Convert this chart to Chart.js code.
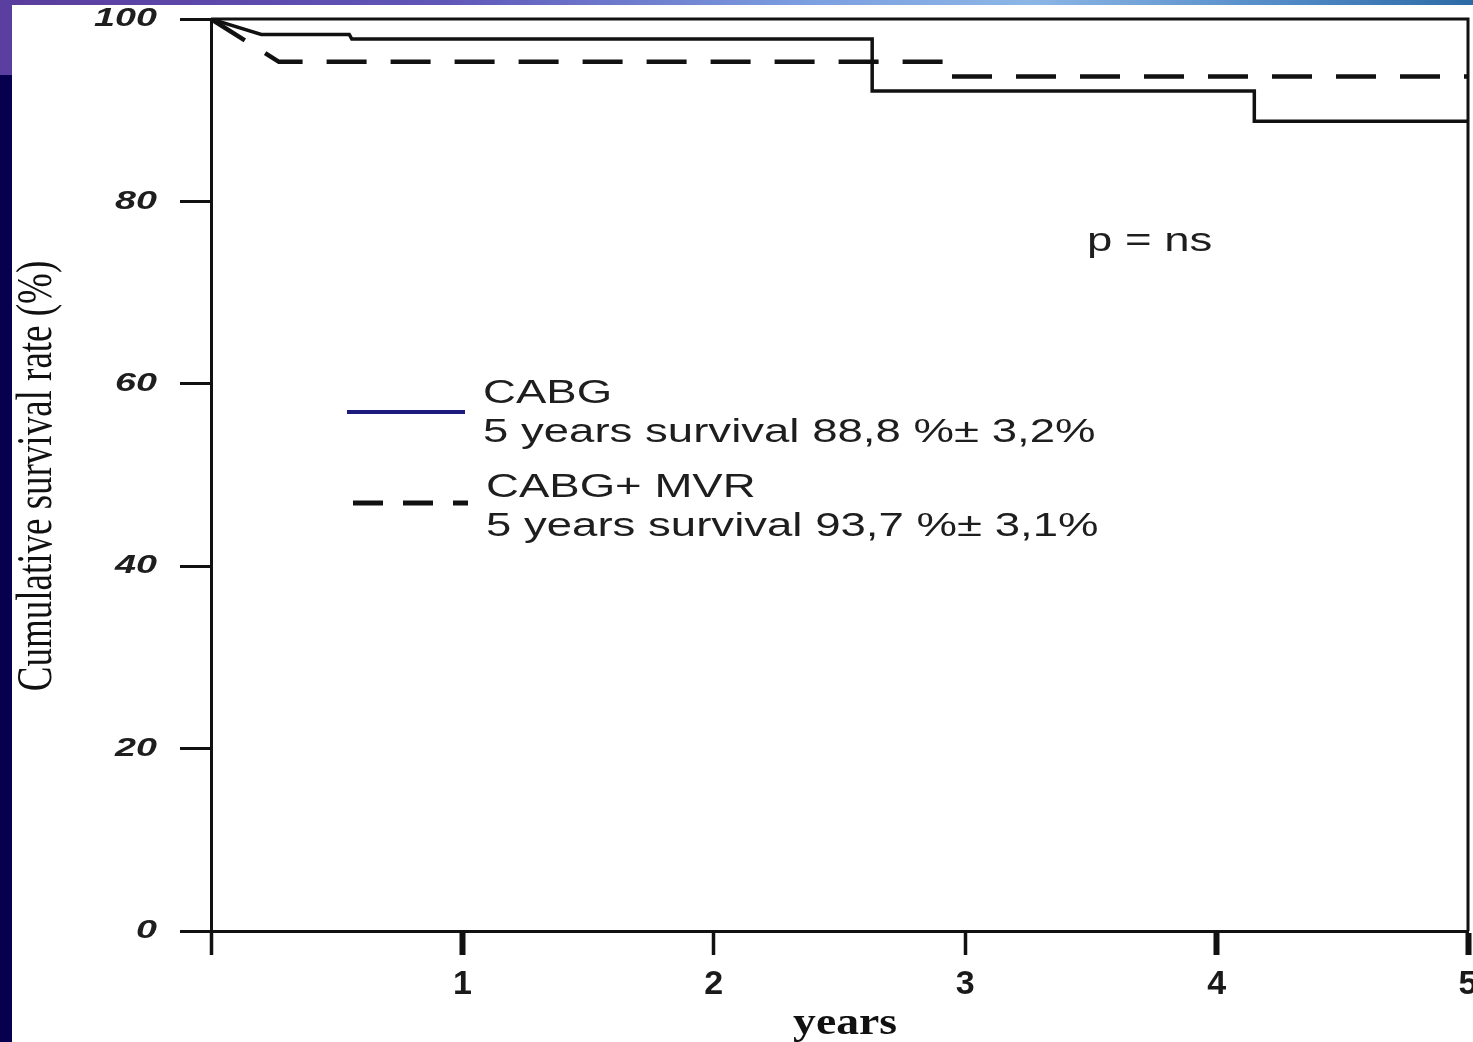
<!DOCTYPE html>
<html>
<head>
<meta charset="utf-8">
<title>Cumulative survival</title>
<script src="https://cdn.jsdelivr.net/npm/chart.js@4/dist/chart.umd.min.js"></script>
<style>
    html, body { margin: 0; padding: 0; }
    body {
        width: 1473px;
        height: 1042px;
        overflow: hidden;
        position: relative;
        background: #06004f;
    }
    #topStrip {
        position: absolute; left: 0; top: 0; width: 1473px; height: 5px;
        background: linear-gradient(90deg, #5a3c9c 0%, #5f56b8 30%, #7c9fe0 55%, #8cb6e6 70%, #4f88c4 88%, #2c6aa6 100%);
    }
    #sideBlock {
        position: absolute; left: 0; top: 0; width: 12px; height: 75px;
        background: #5a3ea0;
    }
    #chartBox {
        position: absolute; left: 12px; top: 5px; width: 1461px; height: 1037px;
        background: #ffffff;
    }
</style>
</head>
<body>
<div id="topStrip"></div>
<div id="sideBlock"></div>
<div id="chartBox"><canvas id="survival" width="1461" height="1037"></canvas></div>

<script>
// Kaplan-Meier curves, years vs cumulative survival (%)
const cabgYears = [0, 0.2, 0.55, 0.56, 2.63, 2.63, 4.15, 4.15, 5];
const cabgSurvival = [100, 98.3, 98.3, 97.8, 97.8, 92.1, 92.1, 88.8, 88.8];
const mvrYears = [0, 0.27, 2.94, 2.94, 5];
const mvrSurvival = [100, 95.3, 95.3, 93.7, 93.7];

const yearTicks = [0, 1, 2, 3, 4, 5];
const survivalTicks = [0, 20, 40, 60, 80, 100];

const legendLines = [
    ['CABG', '5 years survival 88,8 %\u00b1 3,2%'],
    ['CABG+ MVR', '5 years survival 93,7 %\u00b1 3,1%'],
];
const pValueText = 'p = ns';
const xTitle = 'years';
const yTitle = 'Cumulative survival rate (%)';

const INK = '#111111';

function toPoints(xs, ys) {
    return xs.map((x, i) => ({x: x, y: ys[i]}));
}

// stretched text, the figure's labels are wider than the font
function wideText(ctx, text, x, y, sx, align) {
    ctx.save();
    ctx.translate(x, y);
    ctx.scale(sx, 1);
    ctx.textAlign = align || 'left';
    ctx.fillText(text, 0, 0);
    ctx.restore();
}

// no extra room for the first/last tick labels
function noScalePadding(scale) {
    scale.paddingTop = 0;
    scale.paddingBottom = 0;
    scale.paddingLeft = 0;
    scale.paddingRight = 0;
}

const decorations = {
    id: 'decorations',
    afterDatasetsDraw(chart) {
        const ctx = chart.ctx;
        const area = chart.chartArea;
        const yScale = chart.scales.y;

        // box frame top and right
        ctx.save();
        ctx.strokeStyle = INK;
        ctx.lineWidth = 3;
        ctx.beginPath();
        ctx.moveTo(area.left, area.top);
        ctx.lineTo(area.right, area.top);
        ctx.lineTo(area.right, area.bottom);
        ctx.stroke();
        ctx.restore();

        // y tick labels, italic and wide
        ctx.save();
        ctx.fillStyle = '#1e1e1e';
        ctx.font = 'italic bold 26px "Liberation Sans", Arial, sans-serif';
        ctx.textBaseline = 'middle';
        survivalTicks.forEach(v => {
            wideText(ctx, String(v), 145, yScale.getPixelForValue(v), 1.45, 'right');
        });
        ctx.restore();

        // y title, rotated
        ctx.save();
        ctx.fillStyle = INK;
        ctx.font = '37px "Liberation Serif", "Times New Roman", serif';
        ctx.translate(26, 471);
        ctx.rotate(-Math.PI / 2);
        ctx.scale(1, 1.35);
        ctx.textAlign = 'center';
        ctx.textBaseline = 'middle';
        ctx.fillText(yTitle, 0, 0);
        ctx.restore();

        // x title
        ctx.save();
        ctx.fillStyle = INK;
        ctx.font = 'bold 38px "Liberation Serif", "Times New Roman", serif';
        ctx.textBaseline = 'alphabetic';
        wideText(ctx, xTitle, 833, 1029, 1.2, 'center');
        ctx.restore();

        // legend
        ctx.save();
        ctx.lineCap = 'butt';
        ctx.strokeStyle = '#1c1a7c';
        ctx.lineWidth = 4;
        ctx.beginPath();
        ctx.moveTo(335, 407);
        ctx.lineTo(453, 407);
        ctx.stroke();

        ctx.strokeStyle = INK;
        ctx.lineWidth = 5;
        ctx.setLineDash([30, 20]);
        ctx.beginPath();
        ctx.moveTo(341, 498);
        ctx.lineTo(456, 498);
        ctx.stroke();
        ctx.setLineDash([]);

        ctx.fillStyle = '#1e1e1e';
        ctx.font = '34px "Liberation Sans", Arial, sans-serif';
        ctx.textBaseline = 'alphabetic';
        wideText(ctx, legendLines[0][0], 471, 398, 1.34);
        wideText(ctx, legendLines[0][1], 471, 437, 1.34);
        wideText(ctx, legendLines[1][0], 474, 492, 1.34);
        wideText(ctx, legendLines[1][1], 474, 531, 1.34);

        wideText(ctx, pValueText, 1075, 246, 1.34);
        ctx.restore();
    }
};

new Chart(document.getElementById('survival'), {
    type: 'line',
    data: {
        datasets: [
            {
                label: 'CABG',
                data: toPoints(cabgYears, cabgSurvival),
                borderColor: INK,
                borderWidth: 3.5,
                pointRadius: 0,
                tension: 0,
                fill: false,
            },
            {
                label: 'CABG+ MVR',
                data: toPoints(mvrYears, mvrSurvival),
                borderColor: INK,
                borderWidth: 4.5,
                borderDash: [40, 24],
                pointRadius: 0,
                tension: 0,
                fill: false,
            },
        ]
    },
    options: {
        responsive: false,
        animation: false,
        devicePixelRatio: 1,
        layout: {
            autoPadding: false,
            padding: {top: 14, right: 5, left: 0, bottom: 0}
        },
        plugins: {
            legend: {display: false},
            tooltip: {enabled: false},
        },
        scales: {
            x: {
                type: 'linear',
                min: 0,
                max: 5,
                afterFit: scale => { scale.height = 111; noScalePadding(scale); },
                afterBuildTicks: scale => { scale.ticks = yearTicks.map(v => ({value: v})); },
                border: {display: true, color: INK, width: 3},
                grid: {
                    drawOnChartArea: false,
                    drawTicks: true,
                    tickLength: 24,
                    tickColor: INK,
                    tickWidth: ctx => (ctx.tick && [1, 4, 5].includes(ctx.tick.value)) ? 6 : 3.5,
                },
                ticks: {
                    color: '#1a1a1a',
                    padding: 9,
                    maxRotation: 0,
                    autoSkip: false,
                    font: {family: '"Liberation Sans", Arial, sans-serif', size: 34, weight: 'bold'},
                    callback: v => (v === 0 ? '' : String(v)),
                }
            },
            y: {
                type: 'linear',
                min: 0,
                max: 100,
                afterFit: scale => { scale.width = 199; noScalePadding(scale); },
                afterBuildTicks: scale => { scale.ticks = survivalTicks.map(v => ({value: v})); },
                border: {display: true, color: INK, width: 3},
                grid: {
                    drawOnChartArea: false,
                    drawTicks: true,
                    tickLength: 31,
                    tickColor: INK,
                    tickWidth: 3,
                },
                ticks: {
                    color: 'rgba(0,0,0,0)',
                    padding: 25,
                    font: {size: 27},
                }
            }
        }
    },
    plugins: [decorations]
});
</script>
</body>
</html>
